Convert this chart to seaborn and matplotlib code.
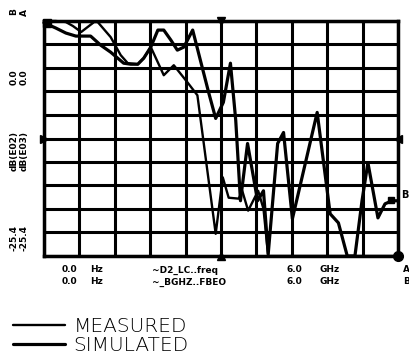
import numpy as np
import pandas as pd
import matplotlib
matplotlib.use("Agg")
import matplotlib.pyplot as plt
import seaborn as sns

# trace A (dB(E03)), frequency in GHz
freq_a = [0.00, 0.20, 0.37, 0.49, 0.63, 0.85, 0.91, 1.13, 1.30, 1.42, 1.59, 1.69, 1.81,
          2.03, 2.20, 2.43, 2.60, 2.91, 3.03, 3.13, 3.30, 3.36, 3.46, 3.63, 3.72, 3.80,
          4.50, 5.20, 6.00]
db_a = [0.0, 0.0, -0.11, -0.54, -1.19, -0.11, -0.11, -1.74, -3.69, -4.56, -4.67, -4.02, -2.82,
        -5.86, -4.78, -6.62, -8.03, -23.0, -16.9, -19.1, -19.2, -18.35, -20.5, -18.35, -20.3, -25.4,
        -25.4, -25.4, -25.4]

# trace B (dB(E02))
freq_b = [0.00, 0.20, 0.37, 0.54, 0.79, 0.96, 1.13, 1.25, 1.35, 1.47, 1.59, 1.69, 1.81,
          1.93, 2.03, 2.15, 2.26, 2.37, 2.52, 2.65, 2.79, 2.91, 3.04, 3.16, 3.25, 3.33,
          3.45, 3.62, 3.72, 3.80, 3.96, 4.06, 4.21, 4.63, 4.85, 4.99, 5.14, 5.27, 5.39,
          5.49, 5.66, 5.78, 5.90, 6.00]
db_b = [-0.2, -0.76, -1.30, -1.63, -1.63, -2.61, -3.37, -4.02, -4.56, -4.67, -4.67, -4.02, -2.82,
        -0.98, -0.98, -2.06, -3.15, -2.82, -0.98, -4.23, -7.71, -10.53, -8.79, -4.56, -10.75, -19.43,
        -13.24, -19.43, -18.35, -25.2, -13.24, -12.05, -21.38, -9.88, -20.84, -21.82, -25.4, -25.4, -19.43,
        -15.31, -21.28, -19.76, -19.43, -19.43]

x_ticks = np.linspace(0, 6, 11)
y_ticks = np.linspace(-25.4, 0, 11)

W, H = 410, 362
def fx(px): return px / W
def fy(py): return 1 - py / H

sns.set_style("white")
plt.rcParams['font.family'] = ['DejaVu Sans']
plt.rcParams['text.color'] = 'black'

fig = plt.figure(figsize=(W / 100, H / 100), dpi=100)
ax = fig.add_axes([fx(44), fy(256), fx(398) - fx(44), fy(21) - fy(256)])

df_a = pd.DataFrame({'freq': freq_a, 'db': np.clip(db_a, -25.4, 0)})
df_b = pd.DataFrame({'freq': freq_b, 'db': np.clip(db_b, -25.4, 0)})

sns.lineplot(data=df_a, x='freq', y='db', ax=ax, color='black', lw=1.7,
             sort=False, estimator=None, label='MEASURED', clip_on=False)
sns.lineplot(data=df_b, x='freq', y='db', ax=ax, color='black', lw=2.3,
             sort=False, estimator=None, label='SIMULATED', clip_on=False)

ax.set_xlim(0, 6)
ax.set_ylim(-25.4, 0)
ax.set_xticks(x_ticks)
ax.set_yticks(y_ticks)
ax.grid(True, color='black', lw=2.2)
ax.tick_params(length=0, labelbottom=False, labelleft=False)
ax.set_xlabel('')
ax.set_ylabel('')
for s in ax.spines.values():
    s.set_color('black')
    s.set_linewidth(2.5)

# trace markers
ax.plot(0.05, -0.25, 's', ms=6, color='black', clip_on=False)
ax.plot(0, -12.7, '>', ms=6, color='black', clip_on=False)
ax.plot(6, -12.7, '<', ms=6, color='black', clip_on=False)
ax.plot(3.0, 0, 'v', ms=6, color='black', clip_on=False)
ax.plot(3.0, -25.4, '^', ms=6, color='black', clip_on=False)
ax.plot(6, -25.4, 'o', ms=7, color='black', clip_on=False)
ax.plot(5.88, -19.4, 's', ms=4, color='black', clip_on=False)
fig.text(fx(405), fy(195), 'B', fontsize=7, weight='bold', ha='center', va='center', color='black')

# left axis annotations (rotated, two columns)
lab_kw = dict(fontsize=6.5, weight='bold', rotation=90, ha='center', va='center', color='black')
for col_x, txts in [(14, ['B', '0.0', 'dB(E02)', '-25.4']),
                    (24, ['A', '0.0', 'dB(E03)', '-25.4'])]:
    for yy, t in zip([12, 77, 151, 238], txts):
        fig.text(fx(col_x), fy(yy), t, **lab_kw)

# bottom annotations
bot_kw = dict(fontsize=6.5, weight='bold', ha='left', va='center', color='black')
for yy, row in [(270, ['0.0', 'Hz', '~D2_LC..freq', '6.0', 'GHz', 'A']),
                (282, ['0.0', 'Hz', '~_BGHZ..FBEO', '6.0', 'GHz', 'B'])]:
    for xx, t in zip([62, 90, 152, 287, 320, 403], row):
        fig.text(fx(xx), fy(yy), t, **bot_kw)

leg = ax.legend(loc='upper left', bbox_to_anchor=(fx(13), fy(317)), bbox_transform=fig.transFigure,
                frameon=False, handlelength=2.6, handletextpad=0.4,
                labelspacing=0.0, borderpad=0, borderaxespad=0,
                prop={'weight': 'light', 'size': 14.5})
for t in leg.get_texts():
    t.set_color('black')

fig.savefig('out.png', dpi=100, facecolor='white')
